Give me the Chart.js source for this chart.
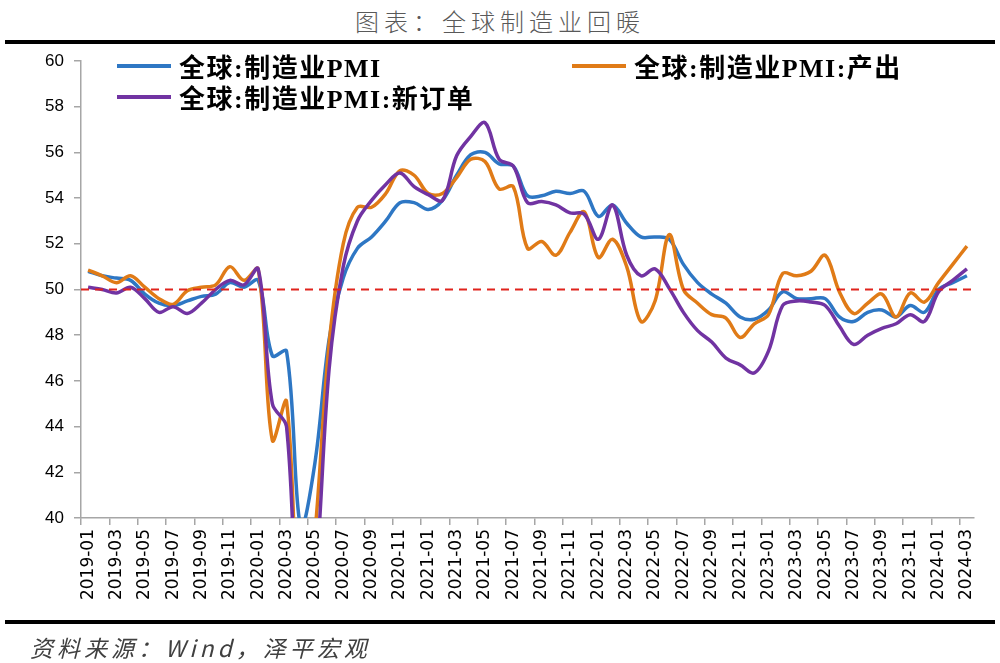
<!DOCTYPE html>
<html>
<head>
<meta charset="utf-8">
<script src="https://cdn.jsdelivr.net/npm/chart.js@4.4.1/dist/chart.umd.min.js"></script>
<style>
    body { margin: 0; background: #fff; }
    #wrap { position: relative; width: 1000px; height: 663px; overflow: hidden; background: #fff; }
    #title { position: absolute; top: 3px; left: 0; width: 1000px; text-align: center; line-height: 30px;
             font: 300 24px "Noto Sans CJK SC"; letter-spacing: 5px; color: #595959; }
    .rule { position: absolute; left: 5px; width: 990px; height: 4px; background: #000; }
    #chart { position: absolute; left: 0; top: 0; }
    .leg { position: absolute; display: flex; align-items: center; line-height: 30px; white-space: nowrap;
           font: bold 26px "Liberation Serif", "Noto Sans CJK SC"; letter-spacing: 1.5px; color: #000; z-index: 2; }
    .leg i { display: inline-block; width: 54px; height: 4px; margin-right: 8px; }
    #source { position: absolute; left: 30px; top: 630px; line-height: 30px;
              font: italic 23px "Noto Sans CJK SC"; letter-spacing: 4px; color: #404040; }
</style>
</head>
<body>
<div id="wrap">
    <div id="title">图表：全球制造业回暖</div>
    <div class="rule" style="top:40px"></div>
    <div class="rule" style="top:620px"></div>
    <canvas id="chart" width="1000" height="663"></canvas>
    <div id="legend"></div>
    <div id="source">资料来源：Wind，泽平宏观</div>
</div>
<script>
// ============== DATA ==============

const months = [
    '2019-01','2019-02','2019-03','2019-04','2019-05','2019-06','2019-07','2019-08','2019-09','2019-10','2019-11','2019-12',
    '2020-01','2020-02','2020-03','2020-04','2020-05','2020-06','2020-07','2020-08','2020-09','2020-10','2020-11','2020-12',
    '2021-01','2021-02','2021-03','2021-04','2021-05','2021-06','2021-07','2021-08','2021-09','2021-10','2021-11','2021-12',
    '2022-01','2022-02','2022-03','2022-04','2022-05','2022-06','2022-07','2022-08','2022-09','2022-10','2022-11','2022-12',
    '2023-01','2023-02','2023-03','2023-04','2023-05','2023-06','2023-07','2023-08','2023-09','2023-10','2023-11','2023-12',
    '2024-01','2024-02','2024-03'
];

// 全球:制造业PMI
const pmiValues = [
    50.8, 50.6, 50.5, 50.4, 49.8, 49.4, 49.3, 49.5, 49.7, 49.8, 50.3, 50.1,
    50.4, 47.1, 47.3, 39.6, 42.4, 47.8, 50.5, 51.8, 52.3, 53.0, 53.8, 53.8,
    53.5, 53.9, 55.0, 55.9, 56.0, 55.5, 55.4, 54.1, 54.1, 54.3, 54.2, 54.3,
    53.2, 53.7, 52.9, 52.3, 52.3, 52.2, 51.1, 50.3, 49.8, 49.4, 48.8, 48.7,
    49.1, 49.9, 49.6, 49.6, 49.6, 48.8, 48.6, 49.0, 49.1, 48.8, 49.3, 49.0,
    50.0, 50.3, 50.6
];

// 全球:制造业PMI:产出
const outputValues = [
    50.85, 50.6, 50.3, 50.6, 50.1, 49.6, 49.35, 49.95, 50.1, 50.2, 51.0, 50.4,
    50.9, 43.4, 45.1, 34.0, 39.3, 47.6, 52.0, 53.6, 53.6, 54.2, 55.2, 55.0,
    54.2, 54.2, 54.9, 55.7, 55.6, 54.4, 54.5, 51.8, 52.1, 51.5, 52.5, 53.4,
    51.4, 52.2, 51.0, 48.6, 49.5, 52.4, 50.0, 49.4, 48.9, 48.75, 47.9, 48.5,
    48.9, 50.7, 50.6, 50.8, 51.5, 49.9, 48.95, 49.4, 49.8, 48.8, 49.85, 49.45,
    50.3, 51.1, 51.9
];

// 全球:制造业PMI:新订单
const newOrderValues = [
    50.1, 50.0, 49.85, 50.1, 49.6, 49.0, 49.25, 48.95, 49.4, 50.0, 50.4, 50.2,
    50.9, 45.0, 44.0, 33.0, 37.0, 46.5, 51.0, 53.0, 53.9, 54.6, 55.1, 54.5,
    54.15, 53.9, 55.85, 56.7, 57.3, 55.7, 55.4, 53.8, 53.85, 53.7, 53.35, 53.3,
    52.2, 53.7, 51.5, 50.6, 50.9, 50.05, 49.0, 48.2, 47.7, 47.0, 46.7, 46.35,
    47.3, 49.3, 49.5, 49.45, 49.3, 48.4, 47.6, 48.0, 48.3, 48.5, 48.9, 48.6,
    49.9, 50.4, 50.9
];

const seriesNames = ['全球:制造业PMI', '全球:制造业PMI:产出', '全球:制造业PMI:新订单'];
const seriesColors = ['#2e77c4', '#e07b17', '#7133a2'];

const yMin = 40;
const yMax = 60;
const yStep = 2;
const thresholdValue = 50;

// legend boxes (left, top) inside the plot
const legendSpots = [[117, 47], [572, 47], [117, 78]];

// ============== CHART ==============

// red dashed line at 50
const thresholdLine = {
    id: 'thresholdLine',
    afterDatasetsDraw(chart) {
        const { ctx, chartArea, scales } = chart;
        const y = scales.y.getPixelForValue(thresholdValue);
        ctx.save();
        ctx.strokeStyle = '#e0231c';
        ctx.lineWidth = 2;
        ctx.setLineDash([8, 6]);
        ctx.beginPath();
        ctx.moveTo(chartArea.left, y);
        ctx.lineTo(chartArea.right, y);
        ctx.stroke();
        ctx.restore();
    }
};

const allValues = [pmiValues, outputValues, newOrderValues];

const datasets = allValues.map((vals, i) => ({
    label: seriesNames[i],
    data: vals,
    borderColor: seriesColors[i],
    backgroundColor: seriesColors[i],
    borderWidth: 3.5,
    pointRadius: 0,
    tension: 0.35,
    fill: false,
    order: 3 - i
}));

const axisGray = '#a6a6a6';

new Chart(document.getElementById('chart').getContext('2d'), {
    type: 'line',
    data: { labels: months, datasets: datasets },
    plugins: [thresholdLine],
    options: {
        responsive: false,
        animation: false,
        devicePixelRatio: 1,
        layout: { padding: { left: 0, right: 26, top: 61, bottom: 0 } },
        plugins: {
            legend: { display: false },
            tooltip: { enabled: false }
        },
        scales: {
            x: {
                type: 'category',
                offset: true,
                afterFit: (scale) => { scale.height = 145; },
                grid: {
                    offset: true,
                    drawOnChartArea: false,
                    drawTicks: true,
                    tickLength: 7,
                    lineWidth: 1.5,
                    color: (ctx) => (ctx.index % 2 === 0 ? axisGray : 'rgba(0,0,0,0)')
                },
                border: { color: axisGray, width: 1.5 },
                ticks: {
                    autoSkip: false,
                    minRotation: 90,
                    maxRotation: 90,
                    padding: 4,
                    color: '#000',
                    font: { family: 'DejaVu Sans', size: 17 },
                    callback: (value, index) => (index % 2 === 0 ? months[index] : '')
                }
            },
            y: {
                min: yMin,
                max: yMax,
                afterFit: (scale) => { scale.width = 81; },
                grid: {
                    drawOnChartArea: false,
                    drawTicks: true,
                    tickLength: 7,
                    lineWidth: 1.5,
                    color: axisGray
                },
                border: { color: axisGray, width: 1.5 },
                ticks: {
                    stepSize: yStep,
                    padding: 10,
                    color: '#000',
                    font: { family: 'Liberation Sans', size: 17 }
                }
            }
        }
    }
});

// HTML legend drawn over the plot, like the original
const legendBox = document.getElementById('legend');
seriesNames.forEach((name, i) => {
    const item = document.createElement('div');
    item.className = 'leg';
    item.style.left = legendSpots[i][0] + 'px';
    item.style.top = legendSpots[i][1] + 'px';
    item.innerHTML = `<i style="background:${seriesColors[i]}"></i><span>${name}</span>`;
    legendBox.appendChild(item);
});
</script>
</body>
</html>
